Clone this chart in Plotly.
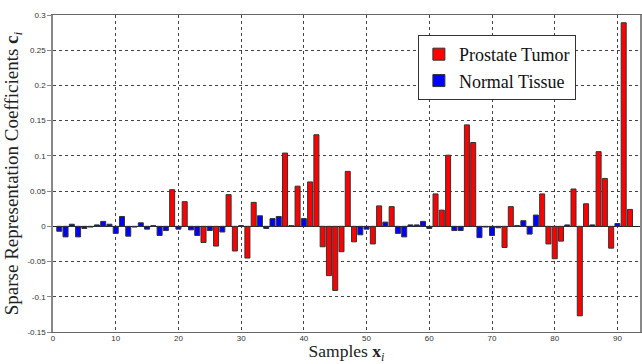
import plotly.graph_objects as go

samples = list(range(1, 93))
coefficients = [
    -0.007, -0.015, 0.003, -0.015, -0.003, -0.001, 0.002, 0.007, 0.003, -0.010,
    0.014, -0.014, -0.001, 0.005, -0.004, 0.001, -0.013, -0.006, 0.052, -0.004,
    0.035, -0.005, -0.013, -0.023, -0.006, -0.028, -0.008, 0.045, -0.035, 0.001,
    -0.045, 0.034, 0.015, -0.003, 0.011, 0.014, 0.104, 0.001, 0.057, 0.011,
    0.063, 0.130, -0.029, -0.070, -0.091, -0.036, 0.078, -0.022, -0.012, -0.004,
    -0.025, 0.029, 0.006, 0.028, -0.010, -0.015, 0.002, 0.002, 0.007, -0.003,
    0.046, 0.023, 0.101, -0.006, -0.006, 0.144, 0.119, -0.016, -0.001, -0.013,
    -0.002, -0.030, 0.028, 0.001, 0.008, -0.011, 0.016, 0.046, -0.025, -0.046,
    -0.021, 0.002, 0.053, -0.127, 0.032, 0.002, 0.106, 0.068, -0.031, 0.004,
    0.289, 0.024,
]
tumor_samples = [19, 21, 24, 26, 28, 29, 31, 32, 37, 38, 39, 41, 42, 43, 44, 45,
                 46, 47, 48, 51, 52, 54, 61, 62, 63, 66, 67, 72, 73, 78, 79, 80,
                 81, 83, 84, 85, 87, 88, 89, 91, 92]

tumor_x = [s for s in samples if s in tumor_samples]
tumor_y = [coefficients[s - 1] for s in tumor_x]
normal_x = [s for s in samples if s not in tumor_samples]
normal_y = [coefficients[s - 1] for s in normal_x]

x_ticks = [0, 10, 20, 30, 40, 50, 60, 70, 80, 90]
y_ticks = [-0.15, -0.1, -0.05, 0, 0.05, 0.1, 0.15, 0.2, 0.25, 0.3]
y_tick_labels = ["-0.15", "-0.1", "-0.05", "0", "0.05", "0.1", "0.15", "0.2", "0.25", "0.3"]

serif = "Liberation Serif, Times New Roman, serif"
sans = "Liberation Sans, Arial, sans-serif"

fig = go.Figure()
fig.add_trace(go.Bar(
    x=tumor_x, y=tumor_y, name="Prostate Tumor", width=0.8,
    marker=dict(color="#ff0000", line=dict(color="#333333", width=1)),
))
fig.add_trace(go.Bar(
    x=normal_x, y=normal_y, name="Normal Tissue", width=0.8,
    marker=dict(color="#0000ff", line=dict(color="#333333", width=1)),
))

fig.update_layout(
    width=642, height=364,
    margin=dict(l=53, r=0, t=15, b=32),
    paper_bgcolor="white", plot_bgcolor="white",
    barmode="overlay",
    showlegend=True,
    legend=dict(
        x=0.6216, y=0.937, xanchor="left", yanchor="top",
        bgcolor="white", bordercolor="#333333", borderwidth=1,
        font=dict(family=serif, size=18, color="#111111"),
        tracegroupgap=0,
    ),
    xaxis=dict(
        range=[0, 93.6], tickvals=x_ticks, ticktext=[str(t) for t in x_ticks],
        showgrid=True, gridcolor="#444444", griddash="dot", gridwidth=1,
        zeroline=False, showline=True, linecolor="#666666", linewidth=1, mirror=True,
        ticks="", ticklabelstandoff=-2,
        tickfont=dict(family=sans, size=8, color="#333333"),
        title=dict(text="Samples <b>x</b><sub><i>i</i></sub>",
                   font=dict(family=serif, size=17.5, color="#222222"), standoff=3),
    ),
    yaxis=dict(
        range=[-0.15, 0.3], tickvals=y_ticks, ticktext=y_tick_labels,
        showgrid=True, gridcolor="#444444", griddash="dot", gridwidth=1,
        zeroline=True, zerolinecolor="#222222", zerolinewidth=1,
        showline=True, linecolor="#888888", linewidth=1.5, mirror=True,
        ticks="outside", ticklen=4, tickcolor="#888888",
        tickfont=dict(family=sans, size=8, color="#333333"),
        title=dict(text="Sparse Representation Coefficients <b>c</b><sub><i>i</i></sub>",
                   font=dict(family=serif, size=19, color="#222222"), standoff=4),
    ),
)

fig.write_html(
    "out.html",
    config={"displayModeBar": False},
    post_script="document.body.style.margin='0';document.body.style.padding='0';",
)
